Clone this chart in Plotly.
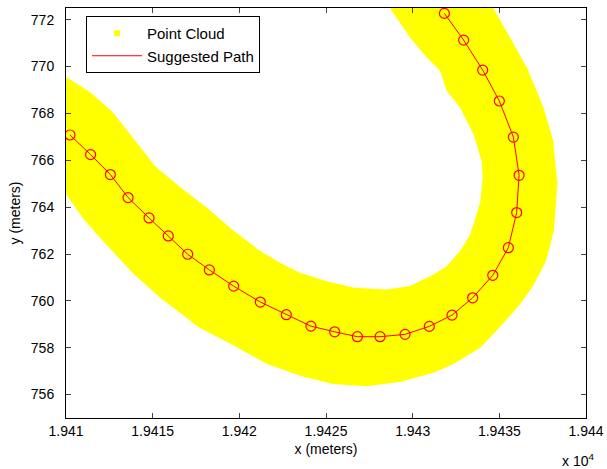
import plotly.graph_objects as go

# Suggested path (meters)
path_x = [19410.23, 19411.42, 19412.56, 19413.58, 19414.79, 19415.90, 19417.02, 19418.27,
          19419.67, 19421.21, 19422.71, 19424.13, 19425.50, 19426.81, 19428.12, 19429.56,
          19430.96, 19432.27, 19433.46, 19434.62, 19435.52, 19436.00, 19436.14, 19435.81,
          19435.00, 19434.04, 19432.94, 19431.83]
path_y = [767.08, 766.24, 765.39, 764.41, 763.54, 762.77, 761.99, 761.32,
          760.63, 759.95, 759.41, 758.92, 758.68, 758.47, 758.47, 758.57,
          758.91, 759.39, 760.13, 761.09, 762.27, 763.77, 765.36, 766.99,
          768.53, 769.85, 771.13, 772.27]

# Point cloud outer boundary (bottom/right edge)
outer_x = [19409.8, 19410.0, 19411.0, 19412.2, 19413.9, 19415.4, 19417.7, 19419.65, 19421.6,
           19423.5, 19425.4, 19427.35, 19429.3, 19431.2, 19432.35, 19433.9, 19435.0, 19436.2,
           19437.0, 19437.7, 19438.15, 19438.35, 19438.1, 19437.55, 19436.6, 19435.4, 19434.65,
           19434.3]
outer_y = [764.6, 764.55, 763.5, 762.5, 761.15, 760.15, 758.85, 758.1, 757.3,
           756.8, 756.45, 756.36, 756.55, 756.93, 757.3, 758.0, 758.85, 759.85,
           760.7, 761.7, 763.0, 765.0, 766.85, 768.25, 769.95, 771.55, 772.5,
           772.9]
# Point cloud inner boundary (top/left edge)
inner_x = [19409.8, 19410.0, 19411.4, 19412.7, 19414.3, 19415.2, 19416.6, 19418.1, 19419.65,
           19421.2, 19422.5, 19423.5, 19425.0, 19426.6, 19428.5, 19429.85, 19431.2, 19432.0,
           19432.73, 19433.3, 19433.9, 19434.04, 19433.98, 19433.5, 19432.73, 19431.96, 19431.58,
           19430.81, 19429.85, 19428.79, 19428.5]
inner_y = [769.6, 769.55, 768.9, 768.05, 766.55, 765.7, 764.85, 764.0, 763.0,
           762.13, 761.56, 761.2, 760.85, 760.56, 760.49, 760.63, 761.13, 761.5,
           762.13, 762.8, 764.2, 765.3, 765.97, 767.12, 768.25, 768.97, 769.82,
           770.39, 771.24, 772.38, 772.9]

x_tick_vals = [19410, 19415, 19420, 19425, 19430, 19435, 19440]
x_tick_text = ["1.941", "1.9415", "1.942", "1.9425", "1.943", "1.9435", "1.944"]
y_tick_vals = [756, 758, 760, 762, 764, 766, 768, 770, 772]

FONT = "Liberation Sans, Arial, sans-serif"

fig = go.Figure()

band_x = outer_x + inner_x[::-1]
band_y = outer_y + inner_y[::-1]
fig.add_trace(go.Scatter(x=band_x, y=band_y, mode="lines", fill="toself",
                         fillcolor="#FFFF00", line=dict(width=0, color="#FFFF00"),
                         showlegend=False, hoverinfo="skip"))
# legend entry for point cloud
fig.add_trace(go.Scatter(x=[None], y=[None], mode="markers", name="Point Cloud",
                         marker=dict(symbol="square", size=6, color="#FFFF00")))
fig.add_trace(go.Scatter(x=path_x, y=path_y, mode="lines", name="Suggested Path",
                         line=dict(color="#FF0000", width=1)))
fig.add_trace(go.Scatter(x=path_x, y=path_y, mode="markers", showlegend=False,
                         marker=dict(symbol="circle-open", size=10, color="#FF0000",
                                     line=dict(width=1.2, color="#FF0000"))))

fig.update_layout(
    width=607, height=469,
    margin=dict(l=66, r=21, t=8, b=51, autoexpand=False),
    paper_bgcolor="white", plot_bgcolor="white",
    font=dict(family=FONT, size=14, color="black"),
    legend=dict(x=0.0385, y=0.9805, xanchor="left", yanchor="top",
                bgcolor="white", bordercolor="black", borderwidth=1,
                font=dict(size=15), tracegroupgap=0, itemwidth=50),
    xaxis=dict(range=[19410, 19440], tickvals=x_tick_vals, ticktext=x_tick_text,
               ticks="inside", ticklen=5, showline=True, linecolor="black", linewidth=1,
               mirror="ticks", showgrid=False, zeroline=False, automargin=False,
               title=dict(text="x (meters)", standoff=6, font=dict(size=14))),
    yaxis=dict(range=[755, 772.5], tickvals=y_tick_vals,
               ticks="inside", ticklen=5, showline=True, linecolor="black", linewidth=1,
               mirror="ticks", showgrid=False, zeroline=False, ticklabelstandoff=8,
               automargin=False,
               title=dict(text="y (meters)", standoff=6, font=dict(size=14))),
    annotations=[dict(text="x 10<sup>4</sup>", x=0.985, y=-0.102, xref="paper", yref="paper",
                      xanchor="center", yanchor="middle", showarrow=False,
                      font=dict(size=14))],
)

fig.write_html("out.html", config={"displayModeBar": False},
               post_script="document.body.style.margin='0';")
